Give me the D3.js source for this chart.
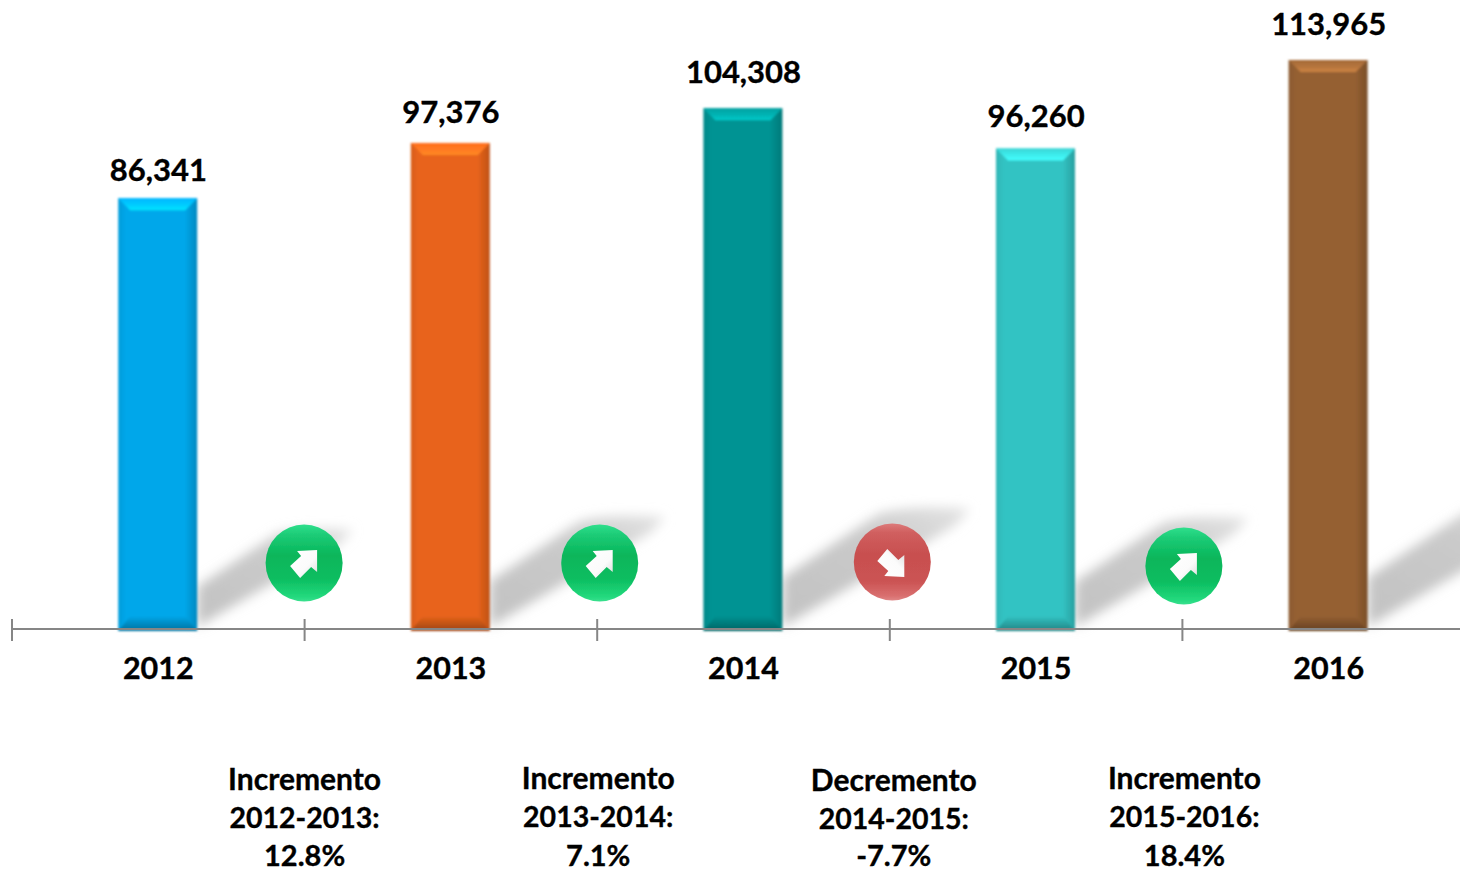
<!DOCTYPE html>
<html><head><meta charset="utf-8">
<script src="https://cdn.jsdelivr.net/npm/d3@7"></script>
<style>html,body{margin:0;padding:0;background:#fff;overflow:hidden}svg{display:block}text{font-family:Lato,"Open Sans",sans-serif;font-weight:700;fill:#000;stroke:#000;stroke-width:.35;text-anchor:middle}</style>
</head><body><svg id="c" width="1460" height="871"></svg>
<script>
const years = ["2012","2013","2014","2015","2016"];
const values = [86341,97376,104308,96260,113965];
const barColors = ["#00a7ea","#e8641b","#039393","#32c3c3","#956032"];
const changeWords = ["Incremento","Incremento","Decremento","Incremento"];
const changeSpans = ["2012-2013:","2013-2014:","2014-2015:","2015-2016:"];
const changePct = ["12.8%","7.1%","-7.7%","18.4%"];

const W=1460,H=871,base=630;
const svg=d3.select("#c");
const defs=svg.append("defs");
const x=d3.scaleBand().domain(years).range([12,12+292.6*5]).paddingInner(0).paddingOuter(0);
const y=d3.scaleLinear().domain([0,113965]).range([base,60]);
const bw=79;
const cx=d=>x(d)+x.bandwidth()/2;
const barLeft=d=>cx(d)-bw/2-.6;

const blur=defs.append("filter").attr("id","blur").attr("x","-20%").attr("y","-30%").attr("width","140%").attr("height","160%");
blur.append("feGaussianBlur").attr("stdDeviation",6);
const soft=defs.append("filter").attr("id","soft").attr("x","-5%").attr("y","-5%").attr("width","110%").attr("height","110%");
soft.append("feGaussianBlur").attr("stdDeviation",.8);
const edge=defs.append("filter").attr("id","edge").attr("x","-10%").attr("y","-10%").attr("width","120%").attr("height","120%");
edge.append("feGaussianBlur").attr("stdDeviation",.6);
const sg=defs.append("linearGradient").attr("id","shadow").attr("x1",0).attr("x2",1).attr("y1",1).attr("y2",0);
sg.append("stop").attr("offset",0).attr("stop-color","#c2c2c2");
sg.append("stop").attr("offset",.6).attr("stop-color","#cacaca");
sg.append("stop").attr("offset",1).attr("stop-color","#e4e4e4");

function lg(id,x1,y1,x2,y2,stops){const g=defs.append("linearGradient").attr("id",id).attr("x1",x1).attr("y1",y1).attr("x2",x2).attr("y2",y2);
 stops.forEach(s=>g.append("stop").attr("offset",s[0]).attr("stop-color",s[1]));}
lg("up",0,0,0,1,[[0,"#2fdf8c"],[.14,"#1ccb76"],[.4,"#08b65a"],[.7,"#0bbd60"],[.93,"#22d87c"],[1,"#38e08e"]]);
lg("down",0,0,0,1,[[0,"#dd7a7a"],[.12,"#d05f5f"],[.4,"#c84f4f"],[.75,"#cb5353"],[.94,"#d96f6f"],[1,"#e08686"]]);
lg("arrowFill",0,0,1,1,[[0,"#ffffff"],[.6,"#fbfbfb"],[1,"#d9d9d9"]]);

// shadows, behind the bars: their reach follows the bar height
svg.append("g").selectAll("path").data(years).join("path")
 .attr("d",(d,i)=>{const r=barLeft(d)+bw,h=Math.min(base-y(values[i]),525);
   return `M${r},${base-.1*h}L${r+.186*h},${base-.224*h}Q${r+.25*h},${base-.24*h} ${r+.36*h},${base-.232*h}L${r+.33*h},${base-.2*h}L${r},${base-3}Z`;})
 .attr("fill","url(#shadow)").attr("filter","url(#blur)");

// bars with bevels
const bars=svg.append("g").selectAll("g").data(years.map((d,i)=>({d,v:values[i],c:barColors[i],i}))).join("g").attr("filter","url(#soft)");
bars.each(function(b){
 const g=d3.select(this),l=barLeft(b.d),r=l+bw,t=y(b.v),bot=base+1,e=12,s=12;
 const c=d3.color(b.c);
 lg("h"+b.i,0,0,1,0,[[0,c.darker(.2)],[.1,c],[.84,c],[1,c.darker(.55)]]);
 lg("t"+b.i,0,0,0,1,[[0,c.brighter(.25)],[.55,c.brighter(.55)],[1,c.brighter(.9)]]);
 lg("b"+b.i,0,0,0,1,[[0,c],[.5,c.darker(.5)],[1,c.darker(1.1)]]);
 g.append("rect").attr("x",l).attr("y",t).attr("width",bw).attr("height",bot-t).attr("fill",`url(#h${b.i})`);
 g.append("path").attr("d",`M${l},${t}L${r},${t}L${r-s},${t+e}L${l+s},${t+e}Z`).attr("fill",`url(#t${b.i})`);
 g.append("path").attr("d",`M${l},${bot}L${r},${bot}L${r-s},${bot-e-3}L${l+s},${bot-e-3}Z`).attr("fill",`url(#b${b.i})`);
});

// axis
const axis=svg.append("g").attr("stroke","#868686").attr("stroke-width",2);
axis.append("line").attr("x1",12).attr("x2",W).attr("y1",base-1).attr("y2",base-1);
axis.selectAll("line.t").data(years).join("line").attr("class","t")
 .attr("x1",d=>x(d)).attr("x2",d=>x(d)).attr("y1",base-11).attr("y2",base+11);

// labels
const valueLift=[17,20,25,22,25];
svg.append("g").selectAll("text").data(years).join("text")
 .attr("x",d=>cx(d)).attr("y",base+49).attr("font-size",30.5).text(d=>d);
svg.append("g").selectAll("text").data(years).join("text")
 .attr("x",d=>cx(d)).attr("y",(d,i)=>y(values[i])-valueLift[i]).attr("font-size",31)
 .text((d,i)=>d3.format(",")(values[i]));

// change badges and captions
const badgeDx=[-.5,2.5,2.5,1.5], badgeY=[563,563,562,566];
const capDx=[0,1,4,2], capY=[790,789,791,789], lastDy=[76,77,75,77];
const arrow="M13,-14 L-7,-13 L-3,-8 L-14,2 L-4,14 L7,3 L13,8 Z";
const badges=svg.append("g").selectAll("g").data(changePct).join("g")
 .attr("transform",(d,i)=>`translate(${x(years[i+1])+badgeDx[i]},${badgeY[i]})`);
badges.append("circle").attr("r",38.5).attr("fill",d=>d.startsWith("-")?"url(#down)":"url(#up)").attr("filter","url(#edge)");
badges.append("path").attr("d",arrow).attr("fill","url(#arrowFill)").attr("filter","url(#edge)")
 .attr("transform",d=>d.startsWith("-")?"scale(1,-1) translate(-1,-1)":"translate(0,1)");
const caps=svg.append("g").selectAll("g").data(changePct).join("g")
 .attr("transform",(d,i)=>`translate(${x(years[i+1])+capDx[i]},${capY[i]})`);
caps.append("text").attr("font-size",30).text((d,i)=>changeWords[i]);
caps.append("text").attr("y",38).attr("font-size",28.5).text((d,i)=>changeSpans[i]);
caps.append("text").attr("y",(d,i)=>lastDy[i]).attr("font-size",29).text(d=>d);
</script></body></html>
